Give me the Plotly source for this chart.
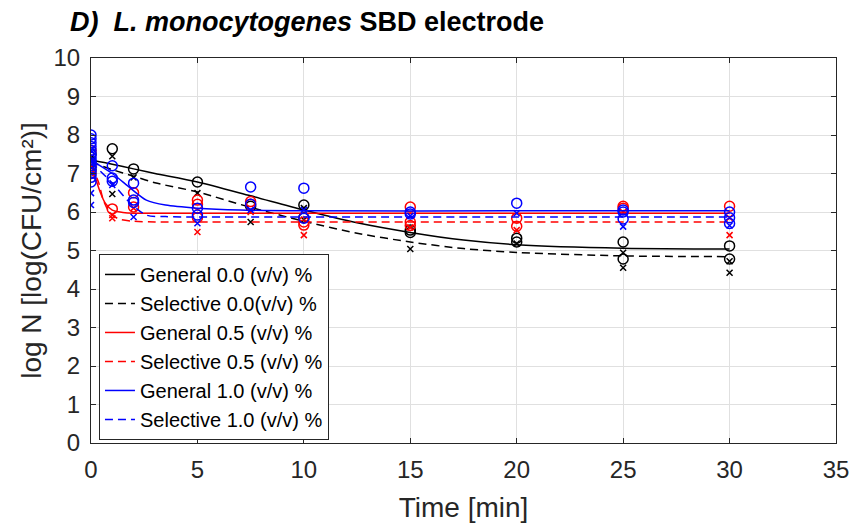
import plotly.graph_objects as go

# ---------------- data ----------------
# measured points: (time list, value list) per series
g00_t = [0, 0, 0, 1, 2, 5, 7.5, 10, 10, 15, 15, 20, 20, 25, 25, 30, 30]
g00_y = [7.3, 7.5, 7.1, 7.64, 7.12, 6.78, 6.15, 6.18, 5.85, 5.53, 5.47, 5.32, 5.22, 5.22, 4.78, 5.12, 4.78]
s00_t = [0, 0, 1, 1, 2, 5, 7.5, 10, 10, 15, 20, 25, 25, 30, 30]
s00_y = [7.2, 7.4, 7.45, 6.47, 6.9, 6.49, 5.74, 6.1, 5.8, 5.04, 5.18, 4.94, 4.55, 4.72, 4.42]
g05_t = [0, 0, 0, 1, 2, 2, 5, 5, 5, 7.5, 7.5, 10, 10, 15, 15, 15, 20, 20, 25, 25, 30]
g05_y = [7.2, 7.6, 7.0, 6.08, 6.5, 6.13, 6.31, 6.2, 5.86, 6.27, 6.2, 5.74, 5.66, 6.13, 5.74, 5.65, 5.84, 5.63, 6.15, 6.1, 6.15]
s05_t = [0, 0, 1, 1, 2, 5, 7.5, 10, 15, 20, 25, 30, 30]
s05_y = [7.0, 7.3, 5.84, 5.92, 6.1, 5.48, 6.0, 5.4, 5.6, 5.53, 6.0, 5.4, 5.85]
g10_t = [0, 0, 0, 0, 0, 0, 0, 0, 0, 0, 0, 0, 0, 0, 1, 1, 1, 2, 2, 2, 5, 5, 7.5, 7.5, 10, 10, 15, 15, 20, 25, 25, 25, 30, 30, 30]
g10_y = [8.0, 7.9, 7.8, 7.7, 7.6, 7.5, 7.42, 7.35, 7.28, 7.2, 7.1, 7.0, 6.9, 6.78, 7.2, 6.88, 6.8, 6.75, 6.31, 6.25,
         6.1, 5.92, 6.65, 6.2, 6.62, 5.84, 6.0, 5.95, 6.23, 6.05, 6.0, 5.82, 5.85, 5.7, 6.0]
s10_t = [0, 0, 0, 0, 1, 2, 5, 7.5, 10, 15, 20, 25, 30]
s10_y = [6.49, 6.18, 7.3, 7.6, 6.7, 5.87, 5.71, 6.05, 6.05, 5.9, 5.97, 5.62, 5.65]

# fitted model curves
fit_g00_t = [0, 1, 2, 3, 5, 7.5, 10, 12.5, 15, 17.5, 20, 25, 30]
fit_g00_y = [7.35, 7.24, 7.12, 7.0, 6.78, 6.42, 6.05, 5.72, 5.47, 5.27, 5.15, 5.06, 5.04]
fit_s00_t = [0, 1, 2, 3, 5, 7.5, 10, 12.5, 15, 17.5, 20, 25, 30]
fit_s00_y = [7.3, 7.1, 6.93, 6.76, 6.52, 6.12, 5.76, 5.45, 5.22, 5.05, 4.95, 4.86, 4.84]
fit_g05_t = [0, 0.2, 0.43, 0.67, 1, 1.5, 2, 3, 5, 10, 20, 30]
fit_g05_y = [7.25, 6.9, 6.52, 6.23, 6.05, 5.99, 5.97, 5.97, 5.97, 5.97, 5.97, 5.97]
fit_s05_t = [0, 0.35, 0.58, 0.9, 1.3, 2, 3, 5, 10, 20, 30]
fit_s05_y = [7.2, 6.78, 6.31, 5.97, 5.82, 5.76, 5.74, 5.74, 5.74, 5.74, 5.74]
fit_g10_t = [0, 1, 1.85, 2.6, 3.5, 5, 7, 10, 20, 30]
fit_g10_y = [7.35, 7.0, 6.62, 6.31, 6.18, 6.1, 6.05, 6.03, 6.03, 6.03]
fit_s10_t = [0, 1, 1.85, 2.6, 3.5, 5, 10, 20, 30]
fit_s10_y = [7.3, 6.75, 6.23, 5.92, 5.88, 5.87, 5.87, 5.87, 5.87]

x_ticks = [0, 5, 10, 15, 20, 25, 30, 35]
y_ticks = [0, 1, 2, 3, 4, 5, 6, 7, 8, 9, 10]

names = ["General 0.0 (v/v) %", "Selective 0.0(v/v) %", "General 0.5 (v/v) %",
         "Selective 0.5 (v/v) %", "General 1.0 (v/v) %", "Selective 1.0 (v/v) %"]

# ---------------- styles ----------------
BLACK, RED, BLUE = "#000000", "#ff0000", "#0000ff"
series = [
    (g00_t, g00_y, fit_g00_t, fit_g00_y, BLACK, "circle-open", "solid"),
    (s00_t, s00_y, fit_s00_t, fit_s00_y, BLACK, "x-thin-open", "8px,5px"),
    (g05_t, g05_y, fit_g05_t, fit_g05_y, RED, "circle-open", "solid"),
    (s05_t, s05_y, fit_s05_t, fit_s05_y, RED, "x-thin-open", "8px,5px"),
    (g10_t, g10_y, fit_g10_t, fit_g10_y, BLUE, "circle-open", "solid"),
    (s10_t, s10_y, fit_s10_t, fit_s10_y, BLUE, "x-thin-open", "8px,5px"),
]

fig = go.Figure()
for (pt, py, ft, fy, col, sym, dash), nm in zip(series, names):
    size = 10 if sym == "circle-open" else 6
    fig.add_trace(go.Scatter(x=pt, y=py, mode="markers", showlegend=False, hoverinfo="skip",
                             marker=dict(symbol=sym, size=size, color=col,
                                         line=dict(color=col, width=1.5))))
    fig.add_trace(go.Scatter(x=ft, y=fy, mode="lines", name=nm,
                             line=dict(color=col, width=1.5, dash=dash, shape="spline", smoothing=0.8)))

AX = "#262626"
GRID = "#e0e0e0"
fig.update_xaxes(range=[0, 35], tickvals=x_ticks, ticks="inside", ticklen=5, tickcolor=AX,
                 showline=True, linecolor=AX, linewidth=1, mirror="ticks",
                 showgrid=True, gridcolor=GRID, gridwidth=1, zeroline=False,
                 tickfont=dict(family="Liberation Sans, Arial", size=24, color=AX),
                 ticklabelstandoff=5,
                 title=dict(text="Time [min]", standoff=15,
                            font=dict(family="Liberation Sans, Arial", size=28, color=AX)))
fig.update_yaxes(range=[0, 10], tickvals=y_ticks, ticks="inside", ticklen=5, tickcolor=AX,
                 showline=True, linecolor=AX, linewidth=1, mirror="ticks",
                 showgrid=True, gridcolor=GRID, gridwidth=1, zeroline=False,
                 tickfont=dict(family="Liberation Sans, Arial", size=24, color=AX),
                 ticklabelstandoff=5,
                 title=dict(text="log N [log(CFU/cm²)]", standoff=3,
                            font=dict(family="Liberation Sans, Arial", size=28, color=AX)))

fig.add_annotation(xref="paper", yref="paper", x=-0.031, y=1.094, xanchor="left", yanchor="middle",
                   showarrow=False,
                   text="<b><i>D)\u00a0\u00a0L. monocytogenes</i> SBD electrode</b>",
                   font=dict(family="Liberation Sans, Arial", size=27, color="#000000"))

fig.update_layout(
    width=864, height=528,
    margin=dict(l=91, r=28, t=58, b=85),
    plot_bgcolor="white", paper_bgcolor="white",
    showlegend=True,
    legend=dict(x=0.0107, y=0.491, xanchor="left", yanchor="top",
                bgcolor="white", bordercolor=AX, borderwidth=1,
                font=dict(family="Liberation Sans, Arial", size=20, color="#000000"),
                itemwidth=30, tracegroupgap=0),
)

fig.write_html("out.html")
